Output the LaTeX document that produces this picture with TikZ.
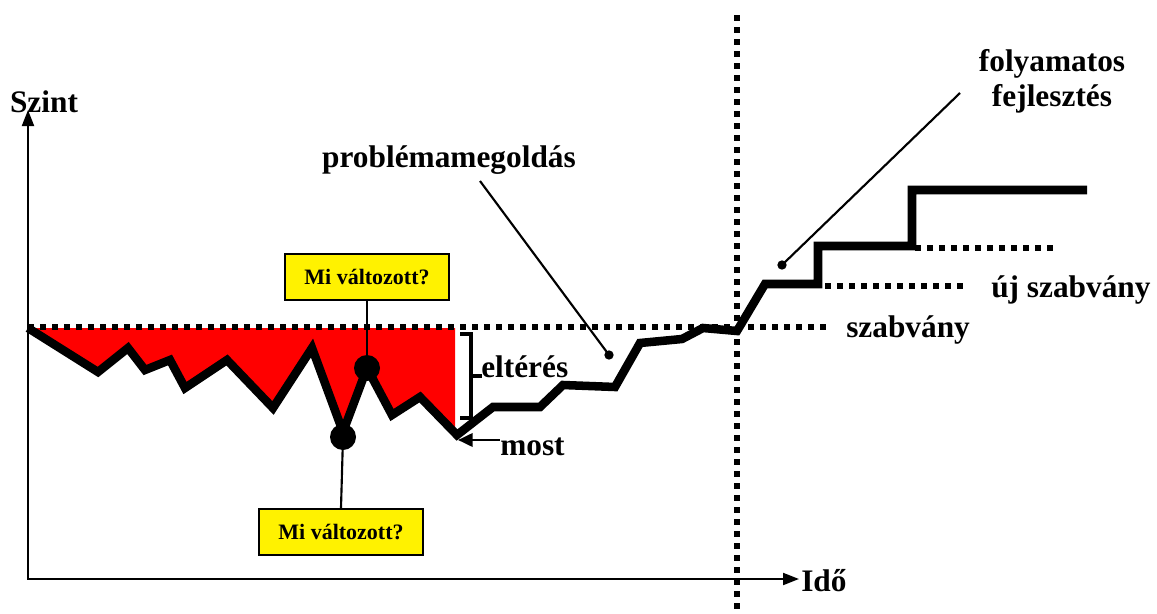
\documentclass[tikz,border=0pt]{standalone}
\usepackage{fontspec}
\setmainfont{Liberation Serif}
\usetikzlibrary{arrows.meta}
\begin{document}
\begin{tikzpicture}[x=0.75pt,y=-0.75pt,
  lbl/.style={font=\fontsize{23.5}{27}\selectfont\bfseries, inner sep=0pt},
  qbox/.style={draw=black, line width=1.8pt, fill=yellow, minimum width=123pt, minimum height=34.5pt, inner sep=0pt, font=\fontsize{16.5}{19}\selectfont\bfseries},
  dotline/.style={line width=4.4pt, dash pattern=on 4.4pt off 4.6pt},
  thickline/.style={line width=6.4pt, miter limit=10},
  thin/.style={line width=1.6pt},
  bigdot/.style={circle, fill=black, minimum size=19.5pt, inner sep=0pt},
  smalldot/.style={circle, fill=black, minimum size=7pt, inner sep=0pt}
]
\useasboundingbox (0,0) rectangle (1157,614);
% axes
\coordinate (ytip) at (28,110);
\coordinate (xtip) at (799,579);
\draw[line width=1.5pt, {Triangle[length=12pt,width=9pt]}-{Triangle[length=12pt,width=9pt]}] (ytip) |- (xtip);
\node[lbl] (szint) at (44,102) {Szint};
\node[lbl, anchor=west] (ido) at (801,581) {Idő};
% red area
\fill[red] (28,328) -- (98,372) -- (128,348) -- (145,370) -- (170,360) -- (185,388) -- (227,360) -- (273,408) -- (312,348) -- (343,432) -- (367,368) -- (392,415) -- (420,397) -- (455,433) -- (455,328) -- cycle;
% standard dotted lines
\draw[dotline] (28,327) -- (830,327);
\draw[dotline] (825,286) -- (968,286);
\draw[dotline] (915,248) -- (1058,248);
\draw[dotline] (737,15) -- (737,614);
% main curve
\draw[thickline] (28,328) -- (98,372) -- (128,348) -- (145,370) -- (170,360) -- (185,388) -- (227,360) -- (273,408) -- (312,348) -- (343,432) -- (367,368) -- (392,415) -- (420,397) -- (457,435) -- (493,407) -- (540,407) -- (563,385) -- (615,387) -- (640,343) -- (682,339) -- (703,328) -- (737,331) -- (765,284) -- (818,284) -- (818,246) -- (912,246) -- (912,190) -- (1087,190);
% dots and question boxes
\node[bigdot] (d1) at (367,368) {};
\node[bigdot] (d2) at (343,437) {};
\node[qbox] (q1) at (367,277) {Mi változott?};
\node[qbox] (q2) at (341,532) {Mi változott?};
\draw[thin] (q1.south) -- (d1.center);
\draw[thin] (q2.north) -- (d2.center);
% deviation bracket
\draw[line width=2.4pt] (460,334) -- (471,334) -- (471,418) -- (460,418);
\draw[line width=2.4pt] (471,376) -- (482,376);
\node[lbl, anchor=west] (elt) at (481,367) {eltérés};
% most
\node[lbl, anchor=west] (most) at (500,447) {most};
\coordinate (mosttip) at (458,440);
\draw[line width=2pt, -{Triangle[length=11pt,width=10pt]}] (most.west |- mosttip) -- (mosttip);
% labels with leaders
\node[lbl] (prob) at (449,160) {problémamegoldás};
\node[smalldot] (pd) at (609,355) {};
\coordinate (pstart) at (480,181);
\draw[thin] (pstart) -- (pd.center);
\node[lbl, align=center] (foly) at (1052,81) {folyamatos\\[-1pt]fejlesztés};
\node[smalldot] (fd) at (782,265) {};
\coordinate (fstart) at (960,93);
\draw[thin] (fstart) -- (fd.center);
\node[lbl, anchor=west] (szab) at (846,330) {szabvány};
\node[lbl, anchor=west] (ujszab) at (991,290) {új szabvány};
\end{tikzpicture}
\end{document}
